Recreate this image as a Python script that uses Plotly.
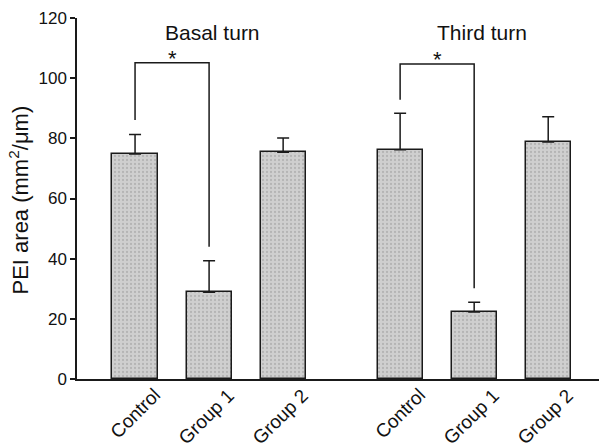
import plotly.graph_objects as go

# Data
categories = ["Control", "Group 1", "Group 2", "Control", "Group 1", "Group 2"]
positions = [0, 1, 2, 3.58, 4.58, 5.58]
values = [74.8, 28.8, 75.4, 76.2, 22.3, 78.8]
errors = [6.5, 10.5, 4.7, 12.1, 3.2, 8.4]
panel_titles = ["Basal turn", "Third turn"]
panel_members = [[0, 1, 2], [3, 4, 5]]
# significance brackets: (left idx, right idx, left bottom y, right bottom y, top y)
brackets = [(0, 1, 86.1, 44.0, 105.1), (3, 4, 92.8, 30.2, 104.7)]
y_title = "PEI area (mm<sup>2</sup>/μm)"

FONT = "Liberation Sans, Arial, sans-serif"
INK = "#1a1a1a"

fig = go.Figure()
fig.add_trace(go.Bar(
    x=positions, y=values, width=0.61,
    marker=dict(color="#c2c2c2", line=dict(color=INK, width=1.5),
                pattern=dict(shape=".", fgcolor="#9a9a9a", bgcolor="#cfcfcf", size=4, solidity=0.25)),
    error_y=dict(type="data", array=errors, arrayminus=[0]*len(errors),
                 color=INK, thickness=1.5, width=6),
    showlegend=False,
))

for li, ri, ly, ry, ty in brackets:
    xl, xr = positions[li], positions[ri]
    fig.add_shape(type="path",
                  path=f"M {xl},{ly} L {xl},{ty} L {xr},{ty} L {xr},{ry}",
                  line=dict(color=INK, width=1.5), xref="x", yref="y")
    fig.add_annotation(x=(xl + xr) / 2, y=ty, text="*", showarrow=False,
                       yanchor="bottom", yshift=-10, font=dict(size=22, color="#111", family=FONT))

for t, members, off in zip(panel_titles, panel_members, [0.04, 0.1]):
    tx = sum(positions[i] for i in members) / len(members) + off
    fig.add_annotation(x=tx, y=120, text=t, showarrow=False, yanchor="middle",
                       yshift=-14, font=dict(size=21, color="#111", family=FONT))

# rotated category labels
for p, c in zip(positions, categories):
    fig.add_annotation(x=p, y=0, text=c, showarrow=False, textangle=-45,
                       xanchor="right", yanchor="top", xshift=32, yshift=-3,
                       font=dict(size=19, color="#111", family=FONT))

# y-axis title
fig.add_annotation(xref="paper", yref="paper", x=0, y=0.5, xshift=-59, yshift=-2,
                   text=y_title, textangle=-90, showarrow=False,
                   xanchor="center", yanchor="middle",
                   font=dict(size=22, color="#111", family=FONT))

# page body has an 8px default margin: size the figure so it fills the 607x448 window
fig.update_layout(
    width=599, height=440,
    margin=dict(l=69, r=4, t=10, b=69),
    paper_bgcolor="white", plot_bgcolor="white",
    font=dict(family=FONT, color="#111"),
    bargap=0,
)
fig.update_xaxes(
    range=[-0.784, 6.32], showticklabels=False, ticks="", automargin=False,
    showline=True, linecolor=INK, linewidth=1.5,
    showgrid=False, zeroline=False,
)
fig.update_yaxes(
    range=[0, 120], tickvals=[0, 20, 40, 60, 80, 100, 120], ticks="outside",
    ticklen=5, tickwidth=1.5, tickcolor=INK, automargin=False,
    showline=True, linecolor=INK, linewidth=1.5, showgrid=False, zeroline=False,
    tickfont=dict(size=17, family=FONT, color="#111"),
)

fig.write_html("out.html")
